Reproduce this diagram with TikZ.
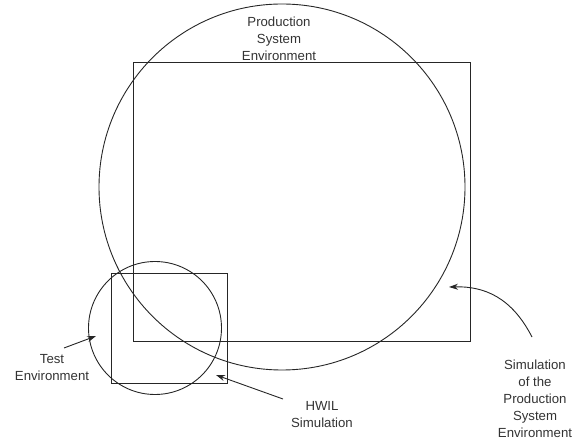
\documentclass[tikz,border=0pt]{standalone}
\usepackage{fontspec}
\setmainfont{Liberation Sans}
\usetikzlibrary{arrows.meta}
\begin{document}
\begin{tikzpicture}[x=1pt,y=-1pt,
  outline/.style={draw=black!85,line width=0.9pt},
  lbl/.style={align=center,inner sep=0pt,text=black!80,font=\fontsize{13.2}{17}\selectfont},
  pointer/.style={draw=black!85,line width=0.9pt,-{Stealth[length=9pt,width=6pt]}}]
  \useasboundingbox (0,0) rectangle (581,443);
  % production system and its simulation
  \draw[outline] (133,62) rectangle (470,341);
  \draw[outline] (282,187) circle[radius=183];
  % test environment and HWIL simulation
  \draw[outline] (111,273) rectangle (227,383);
  \draw[outline] (155,328) circle[radius=66.5];
  % labels
  \node[lbl] (prod) at (279,39) {Production\\System\\Environment};
  \node[lbl] (test) at (52,368) {Test\\Environment};
  \node[lbl] (hwil) at (322,415) {HWIL\\Simulation};
  \node[lbl] (sim) at (535,399) {Simulation\\of the\\Production\\System\\Environment};
  % pointer ends
  \coordinate (testtail) at (64,348);
  \coordinate (testtip) at (96,336);
  \coordinate (hwiltail) at (283,399);
  \coordinate (hwiltip) at (216,375);
  \coordinate (simtail) at (532,337);
  \coordinate (simtip) at (449,287);
  \draw[pointer] (testtail) -- (testtip);
  \draw[pointer] (hwiltail) -- (hwiltip);
  \draw[pointer] (simtail) .. controls (512,298) and (485,286) .. (simtip);
\end{tikzpicture}
\end{document}
